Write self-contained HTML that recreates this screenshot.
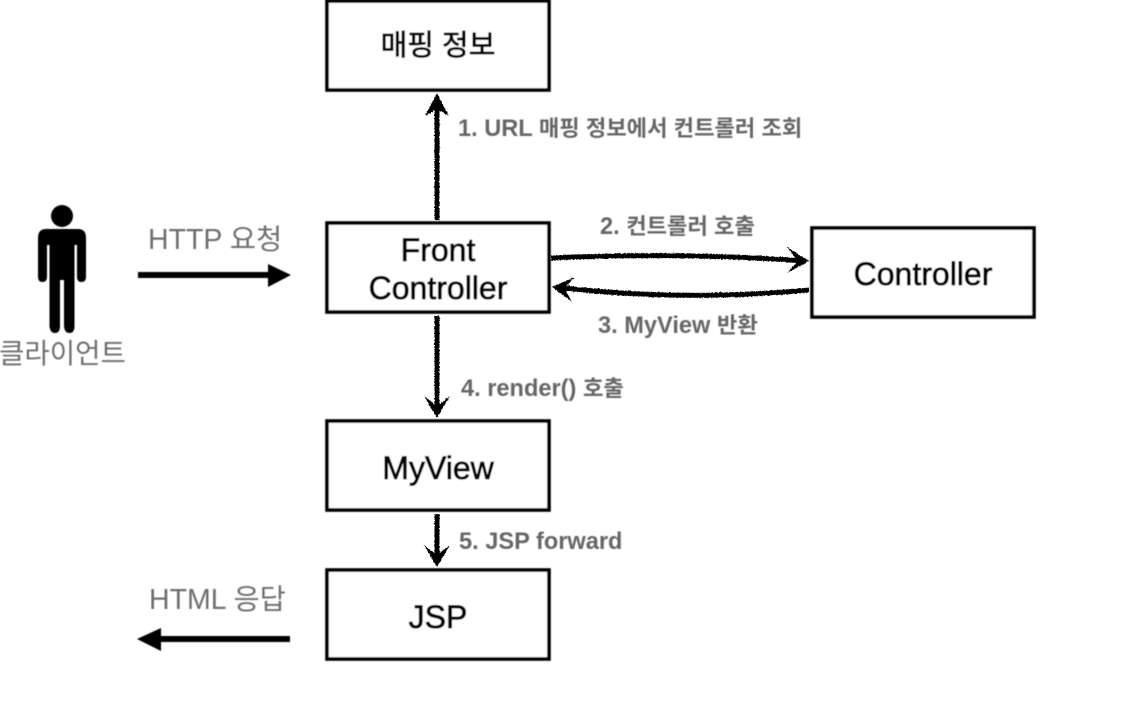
<!DOCTYPE html>
<html lang="ko"><head><meta charset="utf-8"><style>
html,body{margin:0;padding:0;background:#fff}
svg{display:block}
text{font-family:"Liberation Sans","Noto Sans CJK KR",sans-serif;}
.b{fill:#000;font-size:32px;text-anchor:middle;stroke:#000;stroke-width:.8px}
.g{fill:#666;font-size:23.6px;font-weight:bold}
.g tspan{font-size:22.2px}
.h{fill:#6e6e6e;font-size:28.5px}
rect{fill:#fff;stroke:#000;stroke-width:3.6px}
.l{fill:none;stroke:#000;stroke-width:5px}
</style></head><body>
<svg width="1122" height="702" viewBox="0 0 1122 702" xmlns="http://www.w3.org/2000/svg">
<defs>
<filter id="r" x="0" y="0" width="1122" height="702" filterUnits="userSpaceOnUse" primitiveUnits="userSpaceOnUse">
<feTurbulence type="fractalNoise" baseFrequency="0.6" numOctaves="2" seed="3"/>
<feDisplacementMap in="SourceGraphic" scale="2.6" xChannelSelector="R" yChannelSelector="G"/>
<feGaussianBlur stdDeviation="0.35"/>
</filter>
<filter id="s" x="0" y="0" width="1122" height="702" filterUnits="userSpaceOnUse"><feGaussianBlur stdDeviation="0.4"/></filter>
</defs>
<g filter="url(#s)">
<rect x="327" y="1" width="222" height="89"/>
<rect x="327" y="223" width="222" height="89"/>
<rect x="812" y="228" width="222" height="89"/>
<rect x="327" y="421" width="222" height="89"/>
<rect x="327" y="570" width="222" height="89"/>
<text class="b" x="438" y="55" style="font-size:29px">매핑 정보</text>
<text class="b" x="438" y="261">Front</text>
<text class="b" x="438" y="299">Controller</text>
<text class="b" x="923" y="285">Controller</text>
<text class="b" x="438" y="479">MyView</text>
<text class="b" x="438" y="628">JSP</text>
<!-- person -->
<circle cx="62" cy="216" r="11" fill="#000"/>
<path d="M46 229H78Q86 229 86 238V277Q86 282 81.500 282T77 277V245H74.500V326Q74.500 333 69.500 333T64 326V280H60V326Q60 333 55 333T49.500 326V245H47V277Q47 282 42.500 282T38 277V238Q38 229 46 229Z" fill="#000"/>
<text x="-1" y="363" style="fill:#6e6e6e;font-size:27.600px">클라이언트</text>
<text class="h" x="148" y="249">HTTP 요청</text>
<path d="M138 275H270" stroke="#000" stroke-width="6" fill="none"/>
<path d="M268 264L291 275L268 287Z" fill="#000"/>
<text class="h" x="149" y="609">HTML 응답</text>
<path d="M290 639H158" stroke="#000" stroke-width="6" fill="none"/>
<path d="M161 628L137 639L161 651Z" fill="#000"/>
<!-- labels -->
<text class="g" x="458" y="136">1. URL <tspan>매핑 정보에서 컨트롤러 조회</tspan></text>
<text class="g" x="600" y="234">2. <tspan>컨트롤러 호출</tspan></text>
<text class="g" x="598" y="333">3. MyView <tspan>반환</tspan></text>
<text class="g" x="461" y="396">4. render() <tspan>호출</tspan></text>
<text class="g" x="459" y="549">5. JSP forward</text>
</g>
<!-- sketch arrows -->
<g filter="url(#r)">
<path class="l" d="M437 220V98"/>
<path d="M437 93L425 116L437 109L449 116Z" fill="#000"/>
<path class="l" d="M551 258Q680 252 805 261"/>
<path d="M809 261L787 247L798 261L787 273Z" fill="#000"/>
<path class="l" d="M809 290Q680 302 556 287"/>
<path d="M552 287L575 277L564 288L572 302Z" fill="#000"/>
<path class="l" d="M437 316V412"/>
<path d="M437 418L424 396L437 406L450 396Z" fill="#000"/>
<path class="l" d="M437 514V560"/>
<path d="M437 567L424 545L437 555L450 545Z" fill="#000"/>
</g>
</svg>
</body></html>
